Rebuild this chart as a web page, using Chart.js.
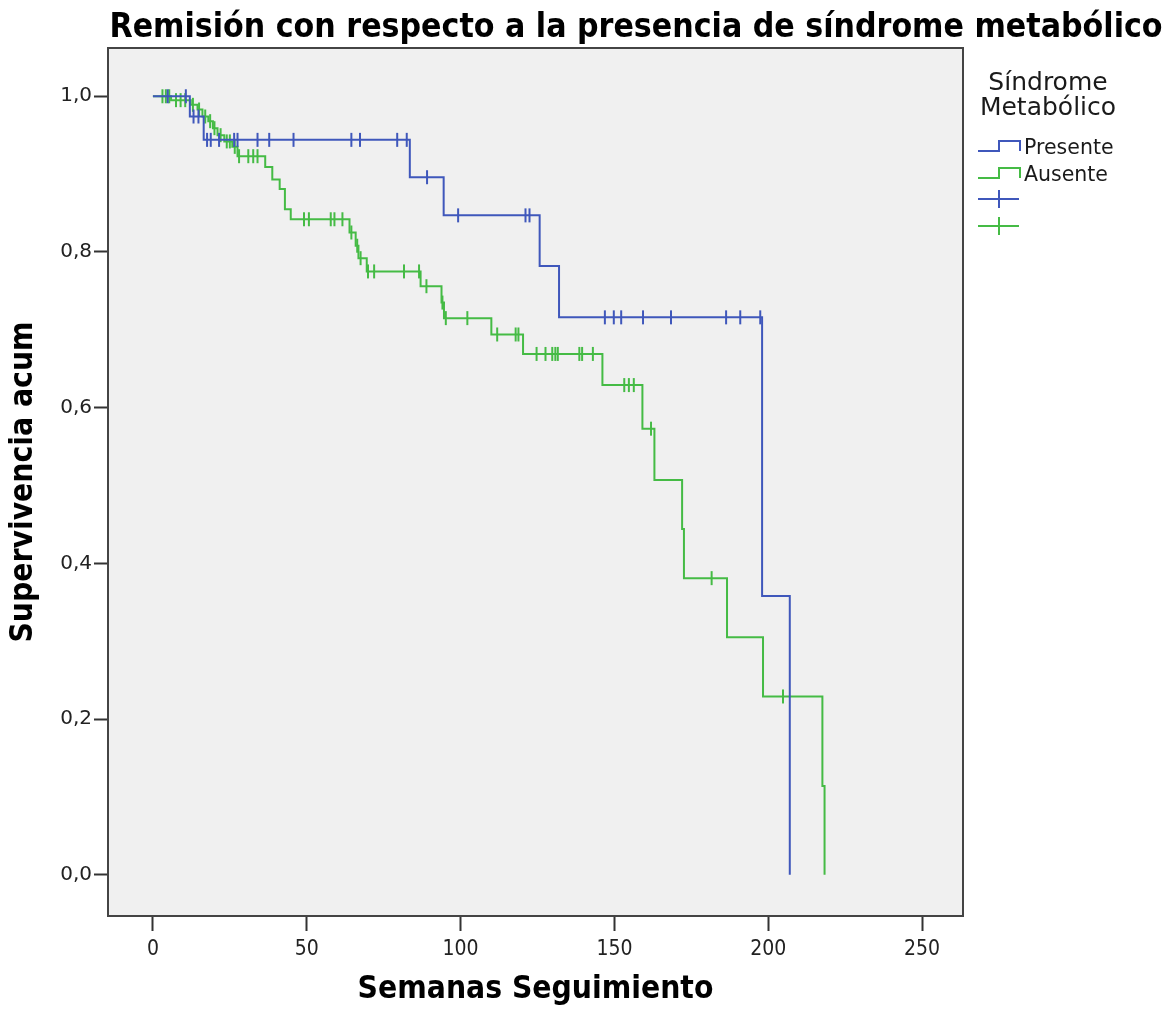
<!DOCTYPE html>
<html>
<head>
    <meta charset="utf-8">
    <title>Remisión</title>
    <style>
        html, body { margin: 0; padding: 0; background: #fff; }
        #wrap { width: 1169px; height: 1009px; }
    </style>
</head>
<body>
    <div id="wrap"><canvas id="myChart" width="1169" height="1009"></canvas></div>
</body>
<script src="https://cdn.jsdelivr.net/npm/chart.js"></script>
<script>
    // ticks
    const xTicks = [0, 50, 100, 150, 200, 250]
    const yTicks = [0, 0.2, 0.4, 0.6, 0.8, 1.0]

    // Síndrome metabólico presente
    const presenteTimes = [0, 12, 16.5, 83.5, 94.5, 125.7, 132, 198, 207]
    const presenteSurv = [1, 0.974, 0.944, 0.896, 0.847, 0.782, 0.716, 0.358, 0]
    const presenteCensored = [4.8, 10.7, 13.2, 14.8, 17.6, 18.8, 21.5, 26.4, 27.5, 34, 37.8, 45.7,
        64.5, 67.3, 79.4, 82.5, 89.1, 99.2, 121.1, 122.4,
        146.9, 149.8, 152.2, 159.3, 168.4, 186.3, 190.9, 197.4]

    // Síndrome metabólico ausente
    const ausenteTimes = [0, 5.9, 12.3, 14.5, 16.1, 18, 19.5, 21, 23.2, 25.8, 27.5,
        36.5, 38.8, 41.2, 42.9, 44.8, 63.9, 65.9, 66.8, 69.5, 87, 93.8, 94.6,
        110, 120.3, 146.1, 159.1, 163, 172, 172.6, 186.6, 198.3, 217.6, 218.3]
    const ausenteSurv = [1, 0.995, 0.989, 0.983, 0.974, 0.968, 0.959, 0.95, 0.942, 0.935, 0.923,
        0.909, 0.893, 0.881, 0.855, 0.842, 0.825, 0.808, 0.792, 0.775, 0.756, 0.735, 0.715,
        0.694, 0.669, 0.629, 0.573, 0.507, 0.444, 0.381, 0.305, 0.229, 0.114, 0]
    const ausenteCensored = [3.1, 4.2, 5.3, 7.5, 9, 10.5, 13, 15, 17, 18.6, 20, 22, 24, 25, 26.6,
        28, 31, 32.6, 34, 49.1, 50.7, 57.8, 59, 61.6, 64.5, 66.4, 67.5,
        69.9, 71.9, 81.6, 86.5, 88.9, 94.1, 95.2, 102.2, 111.9, 117.9, 118.8,
        124.7, 127.6, 129.8, 130.8, 131.6, 138.6, 139.5, 143, 153.2, 154.7, 156.3,
        161.9, 181.6, 204.8]

    const BLUE = '#3f57bb'
    const GREEN = '#45bb45'

    const survAt = (times, surv, t) => {
        let v = surv[0]
        times.forEach((e, i) => { if (e <= t) v = surv[i] })
        return v
    }
    const steps = (times, surv) => times.map((t, i) => ({ x: t, y: surv[i] }))
    const marks = (cens, times, surv) => cens.map(t => ({ x: t, y: survAt(times, surv, t) }))

    const frame = {
        id: 'frame',
        beforeDatasetsDraw(chart) {
            const { ctx, chartArea: a } = chart
            ctx.save()
            ctx.fillStyle = '#f0f0f0'
            ctx.fillRect(a.left, a.top, a.right - a.left, a.bottom - a.top)
            ctx.restore()
        },
        afterDraw(chart) {
            const { ctx, chartArea: a } = chart
            ctx.save()
            ctx.strokeStyle = '#444'
            ctx.lineWidth = 2
            ctx.strokeRect(a.left, a.top, a.right - a.left, a.bottom - a.top)

            // title
            ctx.fillStyle = '#000'
            ctx.textAlign = 'center'
            ctx.textBaseline = 'middle'
            ctx.font = 'bold 33.5px "DejaVu Sans Condensed", "DejaVu Sans"'
            ctx.fillText('Remisión con respecto a la presencia de síndrome metabólico', 636, 28)

            // legend
            ctx.fillStyle = '#1a1a1a'
            ctx.font = '25px "DejaVu Sans"'
            ctx.fillText('Síndrome', 1048, 83)
            ctx.fillText('Metabólico', 1048, 108)
            ctx.textAlign = 'left'
            ctx.font = '20.5px "DejaVu Sans"'
            ctx.fillText('Presente', 1024, 149)
            ctx.fillText('Ausente', 1024, 176)

            ctx.lineWidth = 2
            const stepIcon = (y, color) => {
                ctx.strokeStyle = color
                ctx.beginPath()
                ctx.moveTo(978, y + 5)
                ctx.lineTo(999, y + 5)
                ctx.lineTo(999, y - 5)
                ctx.lineTo(1020, y - 5)
                ctx.lineTo(1020, y + 5)
                ctx.stroke()
            }
            stepIcon(146, BLUE)
            stepIcon(173, GREEN)
            const plusIcon = (y, color) => {
                ctx.strokeStyle = color
                ctx.beginPath()
                ctx.moveTo(978, y)
                ctx.lineTo(1019, y)
                ctx.moveTo(999, y - 9)
                ctx.lineTo(999, y + 9)
                ctx.stroke()
            }
            plusIcon(199, BLUE)
            plusIcon(226, GREEN)
            ctx.restore()
        }
    }

    const ctx = document.getElementById('myChart').getContext('2d')
    new Chart(ctx, {
        type: 'scatter',
        data: {
            datasets: [{
                label: 'Presente',
                data: steps(presenteTimes, presenteSurv),
                showLine: true,
                stepped: 'before',
                borderColor: BLUE,
                borderWidth: 2,
                pointRadius: 0
            }, {
                label: 'Presente-censurado',
                data: marks(presenteCensored, presenteTimes, presenteSurv),
                showLine: false,
                pointStyle: 'line',
                rotation: 90,
                radius: 7,
                borderColor: BLUE,
                borderWidth: 2
            }, {
                label: 'Ausente',
                data: steps(ausenteTimes, ausenteSurv),
                showLine: true,
                stepped: 'before',
                borderColor: GREEN,
                borderWidth: 2,
                pointRadius: 0
            }, {
                label: 'Ausente-censurado',
                data: marks(ausenteCensored, ausenteTimes, ausenteSurv),
                showLine: false,
                pointStyle: 'line',
                rotation: 90,
                radius: 7,
                borderColor: GREEN,
                borderWidth: 2
            }]
        },
        options: {
            responsive: false,
            animation: false,
            layout: { padding: { top: 48, right: 206, left: 0, bottom: 0 } },
            plugins: {
                legend: { display: false },
                tooltip: { enabled: false }
            },
            scales: {
                x: {
                    type: 'linear',
                    min: -14.6,
                    max: 263.3,
                    afterBuildTicks: axis => { axis.ticks = xTicks.map(v => ({ value: v })) },
                    afterFit: s => { s.height = 93 },
                    grid: {
                        drawOnChartArea: false,
                        drawTicks: true,
                        tickLength: 15,
                        tickWidth: 2,
                        tickColor: '#333'
                    },
                    border: { display: false },
                    ticks: {
                        color: '#222',
                        padding: 6,
                        font: { family: '"DejaVu Sans Condensed", "DejaVu Sans"', size: 21 }
                    },
                    title: {
                        display: true,
                        text: 'Semanas Seguimiento',
                        color: '#000',
                        padding: 0,
                        font: { family: '"DejaVu Sans Condensed", "DejaVu Sans"', size: 31.5, weight: 'bold' }
                    }
                },
                y: {
                    min: -0.053,
                    max: 1.062,
                    afterBuildTicks: axis => { axis.ticks = yTicks.map(v => ({ value: v })) },
                    afterFit: s => { s.width = 108 },
                    grid: {
                        drawOnChartArea: false,
                        drawTicks: true,
                        tickLength: 14,
                        tickWidth: 2,
                        tickColor: '#333'
                    },
                    border: { display: false },
                    ticks: {
                        color: '#222',
                        padding: 2,
                        font: { family: '"DejaVu Sans"', size: 20 },
                        callback: v => v.toFixed(1).replace('.', ',')
                    },
                    title: {
                        display: true,
                        text: 'Supervivencia acum',
                        color: '#000',
                        padding: { top: 5, bottom: 0 },
                        font: { family: '"DejaVu Sans Condensed", "DejaVu Sans"', size: 31.5, weight: 'bold' }
                    }
                }
            }
        },
        plugins: [frame]
    })
</script>
</html>
